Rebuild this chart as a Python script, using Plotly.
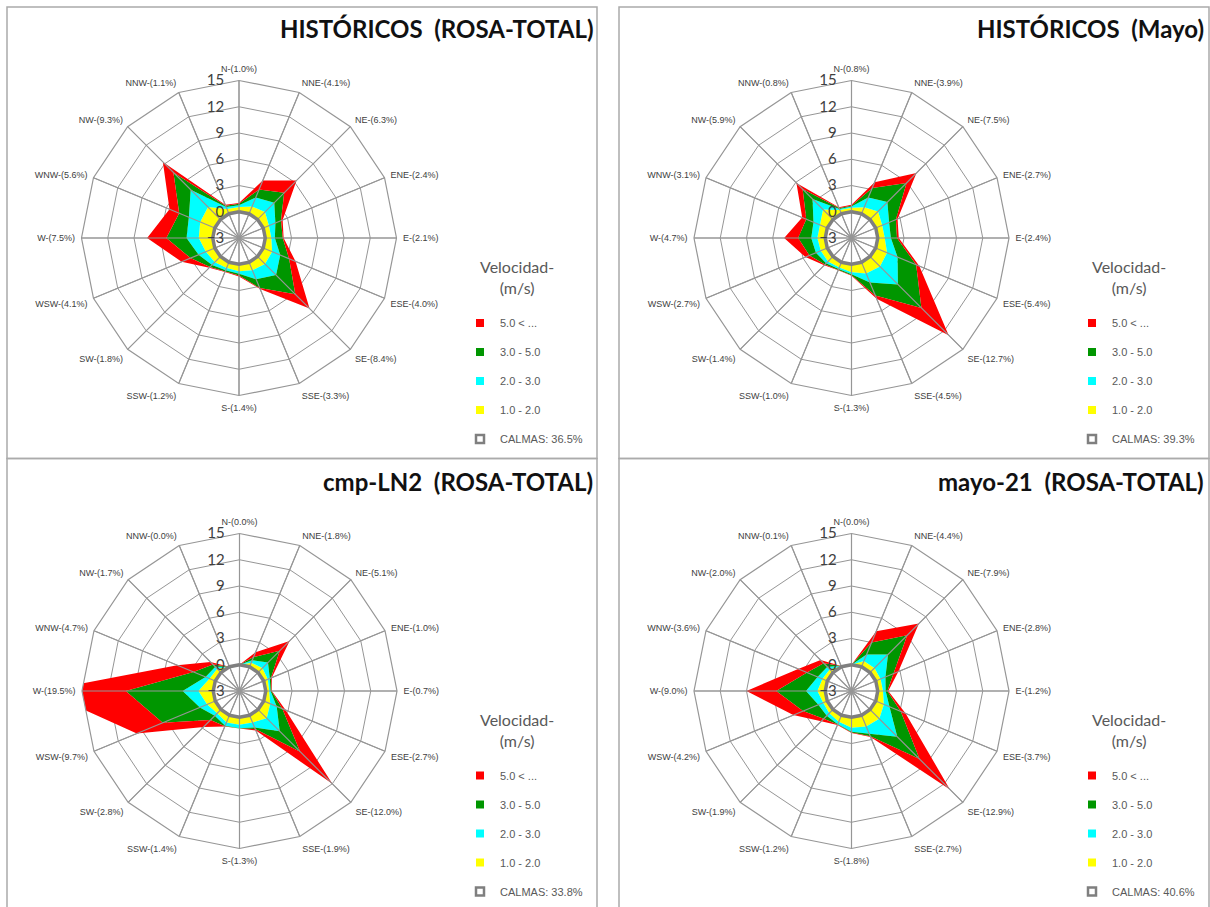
import plotly.graph_objects as go

# ---------------------------------------------------------------------------
# Wind-rose data: frequency (%) per direction and speed class
# ---------------------------------------------------------------------------
DIRECTIONS = ["N", "NNE", "NE", "ENE", "E", "ESE", "SE", "SSE",
              "S", "SSW", "SW", "WSW", "W", "WNW", "NW", "NNW"]

SPEED_CLASSES = ["1.0 - 2.0", "2.0 - 3.0", "3.0 - 5.0", "5.0 < ..."]
RADIAL_TICKS = [-3, 0, 3, 6, 9, 12, 15]

TITLES = ["HISTÓRICOS  (ROSA-TOTAL)", "HISTÓRICOS  (Mayo)",
          "cmp-LN2  (ROSA-TOTAL)", "mayo-21  (ROSA-TOTAL)"]
LEGEND_TITLE = "Velocidad-<br>(m/s)"
CALMAS = [36.5, 39.3, 33.8, 40.6]

# Históricos, rosa total
hist_total_1_2 = [0.55, 0.9, 1.2, 0.7, 0.7, 1.1, 1.2, 1.0, 0.8, 0.7, 0.9, 1.1, 1.6, 1.8, 2.0, 0.6]
hist_total_2_3 = [0.2, 1.1, 1.5, 0.8, 0.4, 1.0, 1.8, 1.1, 0.3, 0.3, 0.45, 0.9, 1.4, 1.4, 2.8, 0.25]
hist_total_3_5 = [0.15, 1.0, 1.6, 0.7, 0.9, 1.1, 3.1, 1.1, 0.2, 0.15, 0.35, 1.0, 2.3, 1.2, 2.8, 0.15]
hist_total_all = [1.0, 4.1, 6.3, 2.4, 2.1, 4.0, 8.4, 3.3, 1.4, 1.2, 1.8, 4.1, 7.5, 5.6, 9.3, 1.1]

# Históricos, mayo
hist_mayo_1_2 = [0.45, 0.8, 1.3, 0.8, 0.8, 1.4, 1.6, 1.4, 0.9, 0.65, 0.8, 0.8, 0.9, 0.9, 1.6, 0.45]
hist_mayo_2_3 = [0.15, 1.2, 1.5, 0.85, 0.7, 1.3, 2.9, 1.1, 0.25, 0.2, 0.3, 0.6, 0.7, 0.8, 1.7, 0.15]
hist_mayo_3_5 = [0.1, 1.2, 3.1, 0.85, 0.7, 2.3, 3.8, 1.6, 0.1, 0.1, 0.2, 0.8, 1.5, 0.9, 1.6, 0.1]
hist_mayo_all = [0.8, 3.9, 7.5, 2.7, 2.4, 5.4, 12.7, 4.5, 1.3, 1.0, 1.4, 2.7, 4.7, 3.1, 5.9, 0.8]

# cmp-LN2, rosa total
cmp_ln2_1_2 = [0.0, 0.5, 0.7, 0.5, 0.4, 0.8, 1.4, 0.9, 0.85, 0.9, 0.6, 1.0, 1.7, 0.7, 0.6, 0.0]
cmp_ln2_2_3 = [0.0, 0.3, 0.9, 0.25, 0.15, 0.8, 2.1, 0.6, 0.4, 0.4, 0.4, 0.9, 1.8, 0.5, 0.3, 0.0]
cmp_ln2_3_5 = [0.0, 0.4, 1.9, 0.15, 0.1, 0.7, 3.3, 0.2, 0.05, 0.05, 0.7, 4.6, 6.5, 1.5, 0.4, 0.0]
cmp_ln2_all = [0.0, 1.8, 5.1, 1.0, 0.7, 2.7, 12.0, 1.9, 1.3, 1.4, 2.8, 9.7, 19.5, 4.7, 1.7, 0.0]

# mayo-21, rosa total
mayo_21_1_2 = [0.0, 0.7, 0.7, 0.6, 0.6, 1.0, 1.5, 1.4, 1.2, 0.8, 0.6, 0.5, 0.9, 0.6, 0.5, 0.05]
mayo_21_2_3 = [0.0, 0.8, 2.2, 0.6, 0.3, 0.7, 2.9, 0.9, 0.45, 0.3, 0.4, 0.6, 1.3, 0.6, 0.4, 0.03]
mayo_21_3_5 = [0.0, 1.5, 3.1, 1.0, 0.2, 1.4, 3.6, 0.3, 0.1, 0.05, 0.5, 1.9, 3.4, 1.3, 0.6, 0.02]
mayo_21_all = [0.0, 4.4, 7.9, 2.8, 1.2, 3.7, 12.9, 2.7, 1.8, 1.2, 1.9, 4.2, 9.0, 3.6, 2.0, 0.1]

ROSES = [
    (hist_total_1_2, hist_total_2_3, hist_total_3_5, hist_total_all),
    (hist_mayo_1_2, hist_mayo_2_3, hist_mayo_3_5, hist_mayo_all),
    (cmp_ln2_1_2, cmp_ln2_2_3, cmp_ln2_3_5, cmp_ln2_all),
    (mayo_21_1_2, mayo_21_2_3, mayo_21_3_5, mayo_21_all),
]

# ---------------------------------------------------------------------------
# Styling / layout
# ---------------------------------------------------------------------------
W, H = 1210, 907
BAND_COLORS = ["#FFFF00", "#00FFFF", "#009600", "#FF0000"]
GRID = "#969696"
CALM_COLOR = "#7f7f7f"
BORDER = "#ababab"
TEXT = "#404040"
LEGEND_TEXT = "#595959"
CLEAR = "rgba(0,0,0,0)"

RADIUS = 157.5                      # px, outer ring of each rose
CENTERS = [(239, 238), (851.5, 238), (239.5, 691), (851.5, 691)]
TITLE_POS = [(595, 28), (1206, 28), (595, 481), (1206, 481)]
LEGEND_TITLE_POS = [(517, 277), (1129, 277), (517, 730), (1129, 730)]
LEGEND_POS = [(460, 308.5), (1072, 308.5), (460, 761), (1072, 761)]
PANEL_BOXES = [(7, 7, 597, 458.5), (619, 7, 1209, 458.5),
               (7, 458.5, 597, 912), (619, 458.5, 1209, 912)]


def px(x):
    return x / W


def py(y):
    return 1 - y / H


def ring(cats, inner, outer):
    """Closed outline of the band between two radial profiles."""
    theta = cats + [cats[0]] + [cats[0]] + cats[:0:-1] + [cats[0]]
    r = list(outer) + [outer[0]] + [inner[0]] + list(inner[:0:-1]) + [inner[0]]
    return theta, r


fig = go.Figure()
layout_extra = {}

for i, (b12, b23, b35, total) in enumerate(ROSES):
    pkey = "polar" if i == 0 else f"polar{i + 1}"
    lkey = "legend" if i == 0 else f"legend{i + 1}"
    cats = [f"{d}-({t:.1f}%)" for d, t in zip(DIRECTIONS, total)]

    # cumulative profiles: calm ring (0) -> 1-2 -> 2-3 -> 3-5 -> total
    profiles = [[0.0] * len(DIRECTIONS)]
    acc = [0.0] * len(DIRECTIONS)
    for band in (b12, b23, b35):
        acc = [a + b for a, b in zip(acc, band)]
        profiles.append(acc)
    profiles.append(list(total))

    for k in range(4):
        theta, r = ring(cats, profiles[k], profiles[k + 1])
        fig.add_trace(go.Scatterpolar(
            r=r, theta=theta, mode="none", fill="toself",
            fillcolor=BAND_COLORS[k], showlegend=False, hoverinfo="skip",
            subplot=pkey))

    # spokes drawn over the filled areas
    sp_theta, sp_r = [], []
    for c in cats:
        sp_theta += [c, c, None]
        sp_r += [RADIAL_TICKS[0], RADIAL_TICKS[-1], None]
    fig.add_trace(go.Scatterpolar(
        r=sp_r, theta=sp_theta, mode="lines",
        line=dict(color=GRID, width=1.2), showlegend=False,
        hoverinfo="skip", subplot=pkey))

    # calm ring
    fig.add_trace(go.Scatterpolar(
        r=[0] * (len(cats) + 1), theta=cats + [cats[0]], mode="lines",
        line=dict(color=CALM_COLOR, width=3.5), showlegend=False,
        hoverinfo="skip", subplot=pkey))

    # legend entries
    for k in (3, 2, 1, 0):
        fig.add_trace(go.Scatterpolar(
            r=[None], theta=[None], mode="markers",
            marker=dict(symbol="square", size=8, color=BAND_COLORS[k]),
            name=SPEED_CLASSES[k], legend=lkey, legendgroup=f"{i}-{k}",
            subplot=pkey))
    fig.add_trace(go.Scatterpolar(
        r=[None], theta=[None], mode="markers",
        marker=dict(symbol="square-open", size=8, color=CALM_COLOR,
                    line=dict(width=2.5, color=CALM_COLOR)),
        name=f"CALMAS: {CALMAS[i]:.1f}%", legend=lkey,
        legendgroup=f"{i}-calm", subplot=pkey))

    cx, cy = CENTERS[i]
    layout_extra[pkey] = dict(
        domain=dict(x=[px(cx - RADIUS), px(cx + RADIUS)],
                    y=[py(cy + RADIUS), py(cy - RADIUS)]),
        gridshape="linear",
        bgcolor="white",
        radialaxis=dict(
            range=[RADIAL_TICKS[0], RADIAL_TICKS[-1]],
            tickmode="array", tickvals=RADIAL_TICKS,
            angle=90, side="counterclockwise", tickangle=90,
            showline=False, ticks="outside", ticklen=9, tickcolor=CLEAR,
            gridcolor=GRID, gridwidth=1.2,
            tickfont=dict(family="Lato", size=15, color=TEXT)),
        angularaxis=dict(
            type="category", categoryarray=cats, rotation=90,
            direction="clockwise", showline=True, linecolor=GRID,
            linewidth=1.2, gridcolor=GRID, gridwidth=1.2,
            ticks="outside", ticklen=4, tickcolor=CLEAR,
            tickfont=dict(family="Liberation Sans", size=9, color=TEXT)),
    )

    lx, ly = LEGEND_POS[i]
    layout_extra[lkey] = dict(
        x=px(lx), y=py(ly), xanchor="left", yanchor="top",
        bgcolor=CLEAR, borderwidth=0,
        font=dict(family="Liberation Sans", size=11, color=LEGEND_TEXT),
        tracegroupgap=10, itemclick=False, itemdoubleclick=False)

    ltx, lty = LEGEND_TITLE_POS[i]
    fig.add_annotation(
        text=LEGEND_TITLE, x=px(ltx), y=py(lty), xref="paper", yref="paper",
        xanchor="center", yanchor="middle", align="center", showarrow=False,
        font=dict(family="Lato", size=16, color=LEGEND_TEXT))

    tx, ty = TITLE_POS[i]
    fig.add_annotation(
        text="<b>" + TITLES[i].replace("  ", " \u00a0") + "</b>",
        x=px(tx), y=py(ty), xref="paper", yref="paper",
        xanchor="right", yanchor="middle", showarrow=False,
        font=dict(family="Lato", size=24, color="#111111"))

    x0, y0, x1, y1 = PANEL_BOXES[i]
    fig.add_shape(type="rect", xref="paper", yref="paper",
                  x0=px(x0), x1=px(x1), y0=py(y1), y1=py(y0),
                  line=dict(color=BORDER, width=1.5), fillcolor=CLEAR,
                  layer="below")

fig.update_layout(
    width=W, height=H,
    margin=dict(l=0, r=0, t=0, b=0),
    paper_bgcolor="white",
    plot_bgcolor="white",
    **layout_extra,
)

fig.write_html("out.html")
